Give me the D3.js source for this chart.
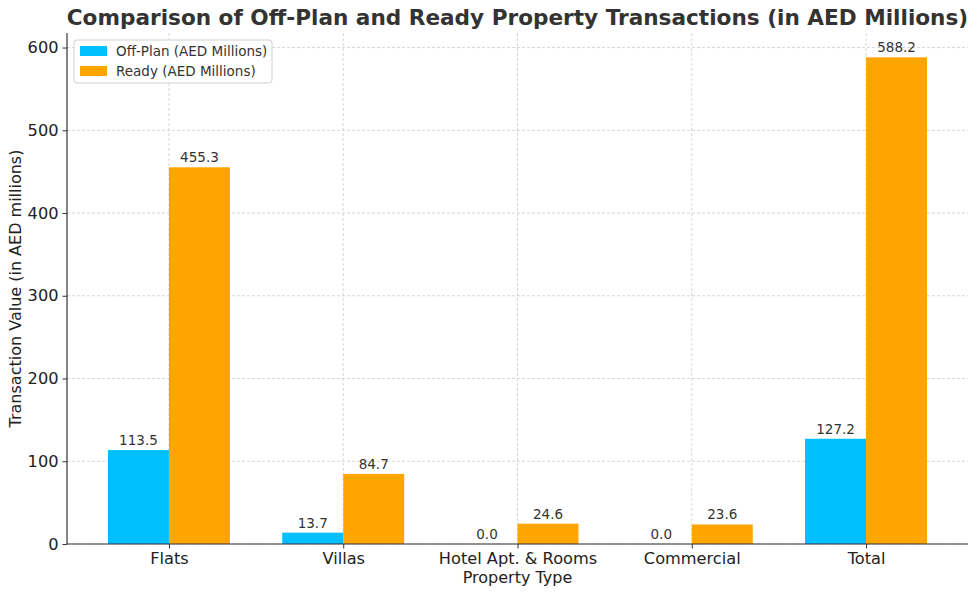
<!DOCTYPE html>
<html><head><meta charset="utf-8">
<script src="https://cdn.jsdelivr.net/npm/d3@7"></script>
<style>body{margin:0;background:#fff;} svg{display:block;font-family:"DejaVu Sans",sans-serif;}</style>
</head><body>
<svg id="c" width="978" height="594"></svg>
<script>
const categories = ["Flats","Villas","Hotel Apt. & Rooms","Commercial","Total"];
const offPlan = [113.5, 13.7, 0.0, 0.0, 127.2];
const ready = [455.3, 84.7, 24.6, 23.6, 588.2];
const yTicks = [0,100,200,300,400,500,600];
const seriesNames = ["Off-Plan (AED Millions)","Ready (AED Millions)"];
const colors = ["#00BFFF","#FFA500"];
const textColor = "#333333";

const svg = d3.select("#c");
const L=67, R=968, T=33, B=544;
const w = 0.35;
const x = d3.scaleLinear().domain([-0.585, 4.585]).range([L,R]);
const y = d3.scaleLinear().domain([0, 617.6]).range([B,T]);

// grid
const g = svg.append("g");
g.selectAll(".hg").data(yTicks).enter().append("line")
 .attr("x1",L).attr("x2",R).attr("y1",d=>y(d)).attr("y2",d=>y(d))
 .attr("stroke","#cccccc").attr("stroke-width",0.8).attr("stroke-dasharray","3,2");
g.selectAll(".vg").data(categories).enter().append("line")
 .attr("x1",(d,i)=>x(i)).attr("x2",(d,i)=>x(i)).attr("y1",T).attr("y2",B)
 .attr("stroke","#cccccc").attr("stroke-width",0.8).attr("stroke-dasharray","3,2");

// bars
const series = [offPlan, ready];
series.forEach((vals,s)=>{
  const off = s===0 ? -w : 0;
  svg.append("g").selectAll("rect").data(vals).enter().append("rect")
    .attr("x",(d,i)=>x(i+off)).attr("width",x(w)-x(0))
    .attr("y",d=>y(d)).attr("height",d=>B-y(d)).attr("fill",colors[s]);
  svg.append("g").selectAll("text").data(vals).enter().append("text")
    .attr("x",(d,i)=>x(i+off+w/2)).attr("y",d=>y(d)-5)
    .attr("text-anchor","middle").attr("font-size",13.5).attr("fill",textColor)
    .text(d=>d.toFixed(1));
});

// axes
const xa = svg.append("g").attr("transform",`translate(0,${B})`)
 .call(d3.axisBottom(x).tickValues(d3.range(categories.length)).tickFormat(i=>categories[i]).tickSize(4.5).tickPadding(4));
xa.select(".domain").attr("d",`M${L},0H${R}`);
const ya = svg.append("g").attr("transform",`translate(${L},0)`)
 .call(d3.axisLeft(y).tickValues(yTicks).tickSize(4.5).tickPadding(4));
ya.select(".domain").attr("d",`M0,${T}V${B}`);
[xa,ya].forEach(a=>{
  a.selectAll("text").attr("font-size",16.2).attr("fill","#222").attr("font-family","DejaVu Sans");
  a.selectAll("line").attr("stroke","#333");
  a.select(".domain").attr("stroke","#333").attr("stroke-width",1.2);
});

// labels
svg.append("text").attr("x",(L+R)/2).attr("y",583).attr("text-anchor","middle")
 .attr("font-size",16).attr("fill","#222").text("Property Type");
svg.append("text").attr("transform",`translate(21,${(T+B)/2}) rotate(-90)`).attr("text-anchor","middle")
 .attr("font-size",16).attr("fill","#222").text("Transaction Value (in AED millions)");
svg.append("text").attr("x",(L+R)/2).attr("y",25).attr("text-anchor","middle")
 .attr("font-size",21.6).attr("font-weight","bold").attr("fill",textColor)
 .text("Comparison of Off-Plan and Ready Property Transactions (in AED Millions)");

// legend
const lg = svg.append("g").attr("transform","translate(74,40)");
lg.append("rect").attr("x",0).attr("y",0).attr("width",198).attr("height",43).attr("rx",3)
 .attr("fill","#fff").attr("fill-opacity",0.8).attr("stroke","#d0d0d0");
seriesNames.forEach((n,i)=>{
  lg.append("rect").attr("x",6).attr("y",6+i*20).attr("width",27).attr("height",10).attr("fill",colors[i]);
  lg.append("text").attr("x",42).attr("y",16+i*20).attr("font-size",13.5).attr("fill",textColor).text(n);
});
</script>
</body></html>
